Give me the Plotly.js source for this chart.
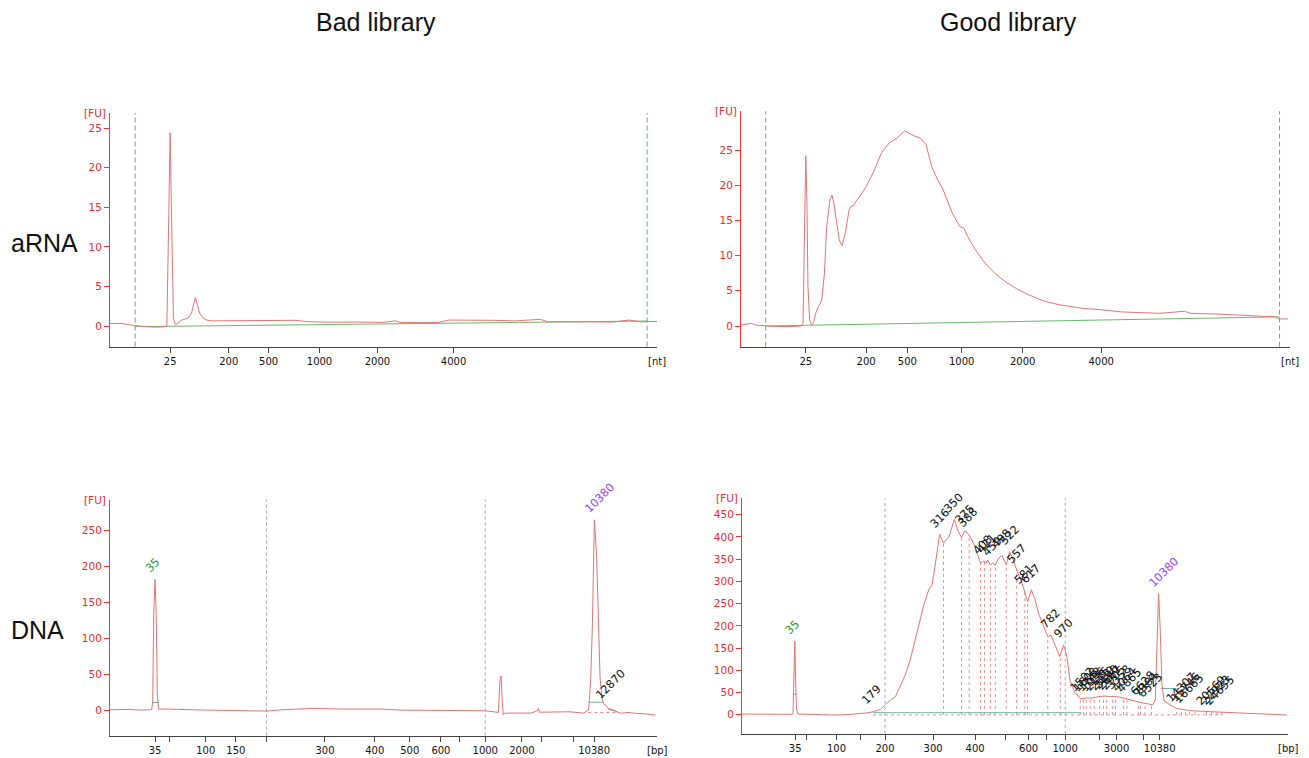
<!DOCTYPE html>
<html><head><meta charset="utf-8">
<script src="https://cdn.plot.ly/plotly-3.0.1.min.js"></script>
<style>html,body{margin:0;padding:0;background:#fff;}#chart{width:1309px;height:758px;}</style>
</head><body><div id="chart"></div>
<script>
// ---------- DATA (x = migration-time units 0..100 along each axis, y = [FU]) ----------
const tlX = [0,2,3.5,4.6,6,8.3,10.0,10.4,10.7,11.0,11.3,11.6,11.9,12.3,12.9,13.6,14.3,14.9,15.3,15.6,16.0,16.4,17.0,17.7,18.5,22,26,30,34,36,40,45,50,52.2,53,57,60,62,66,70,74,78.7,80,84,88,92,94.9,97,100];
const tlY = [0.3,0.33,0.15,0.05,-0.05,-0.15,-0.1,0.1,12,24.4,12,1.0,0.2,0.25,0.7,0.9,1.0,1.6,2.6,3.6,2.6,1.6,1.0,0.75,0.65,0.65,0.68,0.7,0.72,0.55,0.48,0.5,0.46,0.65,0.45,0.42,0.45,0.75,0.78,0.72,0.65,0.84,0.55,0.5,0.52,0.5,0.75,0.52,0.58];
const tlBaseX = [4.6, 98.2], tlBaseY = [-0.08, 0.63];
const tlMarkers = [4.6, 98.2];
const tlTickVals = [11.0, 21.7, 29.0, 38.3, 48.9, 62.8];
const tlTickText = ['25','200','500','1000','2000','4000'];

const trX = [0,1.9,2.9,4.5,6.4,8.5,11.0,11.3,11.6,11.8,12.0,12.2,12.5,12.85,13.2,13.6,14.1,14.7,15.2,15.6,16.2,16.55,16.9,17.5,17.9,18.4,19.0,19.7,20.0,20.5,21.1,21.8,22.8,24.2,25.6,27.0,28.4,29.8,30.5,31.6,32.6,33.7,34.7,35.8,36.8,38.5,39.9,40.6,41.3,42.7,44.5,46.2,48.3,50.4,52.5,53.9,55.3,58.1,62.3,65.8,69.3,72.8,76.3,80.8,81.8,86.7,90.2,93.7,97.2,98.2,99.65];
const trY = [0.14,0.38,0.1,0,-0.05,-0.1,0,0.4,17.9,24.2,17.9,5.6,0.85,0.14,0.4,1.8,2.75,3.7,7.5,14.1,17.9,18.6,17.5,14.1,12.2,11.4,13.2,16.5,17.0,17.1,17.9,18.6,19.8,22.0,24.6,26.0,26.7,27.7,27.4,27.0,26.7,25.8,22.7,20.8,19.4,16.0,14.1,13.9,12.7,10.8,8.9,7.5,6.2,5.2,4.4,3.9,3.5,3.0,2.5,2.3,2.0,1.9,1.8,2.1,1.8,1.7,1.6,1.4,1.3,1.0,1.0];
const trBaseX = [4.5, 98.1], trBaseY = [0, 1.3];
const trMarkers = [4.5, 98.1];
const trTickVals = [11.8, 22.8, 30.3, 40.2, 51.3, 65.6];
const trTickText = ['25','200','500','1000','2000','4000'];

const blX = [0,3.5,5.5,7.6,7.8,8.0,8.24,8.45,8.65,8.86,10.7,12.5,15.2,19,22.0,25.5,28.9,31,33.7,37.2,42.7,49.5,53.0,58,63.3,68.6,70.1,71.0,71.3,71.5,71.7,71.9,72.2,75,77.0,78.2,78.35,78.5,81,83.9,86.6,87.45,87.6,87.9,88.2,88.35,88.55,88.97,89.27,89.58,89.9,90.2,91.1,92.0,92.9,93.5,94.9,96,97.6,99.7];
const blY = [0.9,1.5,0.5,0.9,11,135,182,135,24,1.85,1.85,1.2,0.9,0.3,0,-0.3,-0.9,0.8,1.85,2.8,1.85,1.85,0.5,0.3,0,-0.5,-1.85,-2.8,42.6,48,14.8,-6,-3.7,-3.2,-3.7,0,3,-2.5,-2.5,-1.85,-3.7,0.7,10,47,121,214,265,214,121,47,19,10,3,0.7,-3,-3.8,-2.8,-4,-4.6,-6.5];
const blTickVals = [8.23,10.9,17.5,23.0,28.6,39.3,48.4,54.8,60.5,63.9,68.6,75.3,78.9,84.8,88.5];
const blTickText = ['35','','100','150','','300','400','500','600','','1000','2000','','','10380'];
const blGuides = [28.6, 68.6];
const blPeakText = ['35','10380','12870'];
const blPeakX = [8.24, 88.55, 90.6];
const blPeakY = [182, 265, 6];
const blPeakColor = ['#2e9a2e','#9b3dff','#111111'];

const brX = [0,3,6.45,9.25,9.35,9.5,9.68,9.85,10.0,10.23,12,13.45,15,16.96,19.06,20.5,21.7,22.9,24.1,25.4,26.3,27.2,28.1,29.0,29.9,30.8,31.7,32.7,33.3,34.2,34.8,35.2,35.8,36.2,36.9,37.9,38.9,39.6,40.2,40.8,41.3,41.7,42.4,43.0,43.7,44.3,44.7,45.0,45.5,45.9,46.4,47.0,47.6,48.4,49.0,49.7,50.3,51.3,51.8,52.3,53.0,53.7,54.3,55.2,56.0,56.6,57.2,58.2,58.9,59.5,60.1,61.0,61.9,62.5,63.2,64.0,65.0,66.2,67.5,68.7,70.0,71.1,72.3,73.5,74.5,75.2,75.7,76.0,76.3,76.6,76.9,77.3,78.4,79.6,82.1,85.7,90.6,95.5,99.8];
const brY = [1.5,0.8,1.2,0.8,5,60,166,60,12,1.5,0.5,1,0,-0.75,0,1,1.6,4,6.8,12,23,33,40.5,63,89,123,168,213,247,281,292,322,371,406,386,400,440,412,399,414,408,402,386,363,341,346,341,348,337,341,337,352,359,337,367,348,326,296,277,254,281,258,228,198,176,179,161,131,157,131,75,50,37,36,38,37,40,42,41,40.5,37,33,30,26,24,22,33,138,272,191,71,31.5,22,14,9,6.8,4.5,3,-0.7];
const brTickVals = [9.73,11.9,17.3,21.7,26.2,35.0,42.7,48.2,52.5,55.7,59.2,65.5,68.6,73.5,76.5];
const brTickText = ['35','','100','','200','300','400','','600','','1000','','3000','','10380'];
const brGuides = [26.2, 59.2];
const brBoundX = [36.9,40.2,41.6,43.7,44.4,45.5,46.4,48.4,50.3,51.8,52.3,56.0,58.3,61.95,62.56,63.05,63.78,64.5,65.5,66.2,66.8,67.9,68.4,69.9,70.5,72.6,73.0,73.8,75.0,79.6,80.5,81.2,82.0,83.0,85.1,86.0,87.0,87.9];
const brBoundY = [386,399,406,341,344,337,337,337,326,277,254,176,131,37,36,37,37,38,40,42,41.5,41,40.7,36.5,35,28,27,25,22,14,12.5,11,9,8,6.8,6,5.5,5];
const brPeakText = ['35','179','316','350','375','388','408','421','459','498','522','557','581','617','782','970','1502','1608','1748','1936','2115','2330','2490','2667','2905','3358','4064','4865','6628','7384','8523','10380','14307','15746','16665','20569','22923','24655'];
const brPeakX = [9.68,23.8,36.2,38.9,40.8,41.4,44.2,44.9,45.9,47.6,49.0,50.4,51.6,53.0,56.6,58.9,61.9,62.5,63.2,63.9,64.7,65.5,66.2,66.9,67.6,68.6,69.6,70.5,73.0,73.6,74.3,76.3,79.5,80.3,81.0,85.0,85.8,86.6];
const brPeakY = [166,8,406,440,414,408,346,348,341,359,367,326,280,281,179,157,37,37,38,37,39,40,42,41.5,41,40.5,37,35,27,25,24,272,14,12.5,11,7,6.5,6];

// ---------- LAYOUT HELPERS ----------
const W = 1309, H = 758;
const xd = (a, b) => [a / W, b / W];
const yd = (top, bottom) => [1 - bottom / H, 1 - top / H];
const curveColor = '#e47474';
const axisRed = '#ff3030';
const tickFont = {family: 'DejaVu Sans, Verdana, sans-serif', size: 10, color: '#111'};

function xAxis(dom, anchor, vals, text) {
  return {domain: dom, range: [0, 100], anchor: anchor, showline: true, linecolor: '#444', linewidth: 1,
    ticks: 'outside', ticklen: 5, tickcolor: '#444', tickvals: vals, ticktext: text,
    showgrid: false, zeroline: false, tickfont: tickFont, fixedrange: true};
}
function yAxis(dom, anchor, rng, vals) {
  return {domain: dom, range: rng, anchor: anchor, showline: true, linecolor: axisRed, linewidth: 1,
    ticks: 'outside', ticklen: 5, tickcolor: axisRed, tickvals: vals,
    showgrid: false, zeroline: false, tickfont: {family: tickFont.family, size: 10.5, color: '#f02a2a'}, fixedrange: true};
}

const traces = [];
function line(x, y, xa, ya, color, width, dash) {
  traces.push({type: 'scatter', mode: 'lines', x: x, y: y, xaxis: xa, yaxis: ya,
    line: {color: color, width: width || 1, dash: dash || 'solid'}, hoverinfo: 'skip', connectgaps: false});
}
function vlines(xs, ys, y0) {
  const x = [], y = [];
  xs.forEach((v, i) => { x.push(v, v, null); y.push(y0, ys[i], null); });
  return [x, y];
}

// top-left
line(tlBaseX, tlBaseY, 'x', 'y', '#6cb86c', 1);
line(tlX, tlY, 'x', 'y', curveColor, 1);
// top-right
line(trBaseX, trBaseY, 'x2', 'y2', '#6cb86c', 1);
line(trX, trY, 'x2', 'y2', curveColor, 1);
// bottom-left
line([7.7, 8.9], [11, 11], 'x3', 'y3', '#6fb3a8', 1);
line([87.45, 90.2], [11.4, 11.4], 'x3', 'y3', '#6fb3a8', 1);
line([87.45, 92.9], [-3, -3], 'x3', 'y3', '#e58a8a', 1, 'dot');
line([91.1, 92.9], [1.5, -2], 'x3', 'y3', '#6fb3a8', 1);
line(blX, blY, 'x3', 'y3', curveColor, 1);
// bottom-right
const bl = vlines(brBoundX, brBoundY, -0.5);
line(bl[0], bl[1], 'x4', 'y4', '#e99090', 1, 'dot');
line([24, 88], [-0.5, -0.5], 'x4', 'y4', '#e99090', 1, 'dot');
line([24, 62.2], [4.5, 4.5], 'x4', 'y4', '#6fb3a8', 1);
line([76.7, 79.6], [59, 59], 'x4', 'y4', '#6fb3a8', 1);
line([9.3, 10.1], [46, 46], 'x4', 'y4', '#6fb3a8', 1);
line(brX, brY, 'x4', 'y4', curveColor, 1);

// ---------- SHAPES ----------
const shapes = [];
tlMarkers.forEach(v => shapes.push({type: 'line', xref: 'x', yref: 'y domain', x0: v, x1: v, y0: 0, y1: 1, line: {color: '#5cb85c', width: 1, dash: '5px,3px'}}));
trMarkers.forEach(v => shapes.push({type: 'line', xref: 'x2', yref: 'y2 domain', x0: v, x1: v, y0: 0, y1: 1, line: {color: '#5cb85c', width: 1, dash: '5px,3px'}}));
blGuides.forEach(v => shapes.push({type: 'line', xref: 'x3', yref: 'y3 domain', x0: v, x1: v, y0: 0, y1: 1, line: {color: '#a0a0d8', width: 1, dash: 'dot'}}));
brGuides.forEach(v => shapes.push({type: 'line', xref: 'x4', yref: 'y4 domain', x0: v, x1: v, y0: 0, y1: 1, line: {color: '#a0a0d8', width: 1, dash: 'dot'}}));

// ---------- ANNOTATIONS ----------
const ann = [];
const bigFont = {family: 'Liberation Sans, Arial, sans-serif', size: 25, color: '#111'};
ann.push({xref: 'paper', yref: 'paper', x: 376 / W, y: 1 - 22 / H, text: 'Bad library', showarrow: false, font: bigFont, xanchor: 'center', yanchor: 'middle'});
ann.push({xref: 'paper', yref: 'paper', x: 1008 / W, y: 1 - 22 / H, text: 'Good library', showarrow: false, font: bigFont, xanchor: 'center', yanchor: 'middle'});
ann.push({xref: 'paper', yref: 'paper', x: 44 / W, y: 1 - 243 / H, text: 'aRNA', showarrow: false, font: {family: bigFont.family, size: 25, color: '#111'}, xanchor: 'center', yanchor: 'middle'});
ann.push({xref: 'paper', yref: 'paper', x: 37 / W, y: 1 - 630 / H, text: 'DNA', showarrow: false, font: {family: bigFont.family, size: 25, color: '#111'}, xanchor: 'center', yanchor: 'middle'});

const unitFont = {family: tickFont.family, size: 10.5, color: '#f02a2a'};
[['x', 'y'], ['x2', 'y2'], ['x3', 'y3'], ['x4', 'y4']].forEach(([xa, ya], i) => {
  ann.push({xref: xa + ' domain', yref: ya + ' domain', x: 0, y: 1, xshift: -2, text: '[FU]', showarrow: false, font: unitFont, xanchor: 'right', yanchor: 'middle'});
  ann.push({xref: xa + ' domain', yref: ya + ' domain', x: 1, y: 0, yshift: -15, text: i < 2 ? '[nt]' : '[bp]', showarrow: false, font: tickFont, xanchor: 'center', yanchor: 'middle'});
});

function peakLabel(xa, ya, x, y, t, color) {
  const L = t.length * 7.2, hh = 13, c = 0.7071;
  ann.push({xref: xa, yref: ya, x: x, y: y, text: t, showarrow: false, textangle: -45,
    font: {family: tickFont.family, size: 11.3, color: color}, xanchor: 'center', yanchor: 'middle',
    xshift: -3 + c * L / 2 - c * hh / 2, yshift: 4 + c * L / 2 + c * hh / 2});
}
blPeakText.forEach((t, i) => peakLabel('x3', 'y3', blPeakX[i], blPeakY[i], t, blPeakColor[i]));
brPeakText.forEach((t, i) => peakLabel('x4', 'y4', brPeakX[i], brPeakY[i], t, t === '35' ? '#2e9a2e' : (t === '10380' ? '#9b3dff' : '#111111')));

const layout = {
  width: W, height: H, margin: {l: 0, r: 0, t: 0, b: 0}, showlegend: false,
  paper_bgcolor: '#ffffff', plot_bgcolor: '#ffffff',
  xaxis: xAxis(xd(110, 657), 'y', tlTickVals, tlTickText),
  yaxis: yAxis(yd(113, 346.6), 'x', [-2.6, 26.9], [0, 5, 10, 15, 20, 25]),
  xaxis2: xAxis(xd(741, 1290), 'y2', trTickVals, trTickText),
  yaxis2: yAxis(yd(111.3, 346.7), 'x2', [-2.94, 30.5], [0, 5, 10, 15, 20, 25]),
  xaxis3: xAxis(xd(110, 657), 'y3', blTickVals, blTickText),
  yaxis3: yAxis(yd(499.7, 735.6), 'x3', [-35, 293], [0, 50, 100, 150, 200, 250]),
  xaxis4: xAxis(xd(742, 1288), 'y4', brTickVals, brTickText),
  yaxis4: yAxis(yd(498.3, 733.8), 'x4', [-43, 487], [0, 50, 100, 150, 200, 250, 300, 350, 400, 450]),
  shapes: shapes, annotations: ann
};
Plotly.newPlot('chart', traces, layout, {staticPlot: true, displayModeBar: false});
</script></body></html>
